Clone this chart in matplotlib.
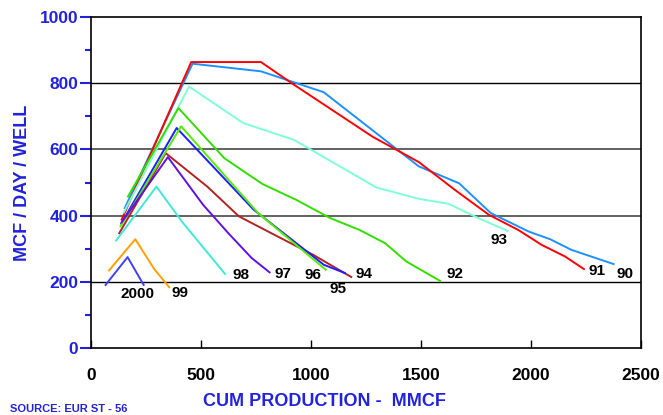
import matplotlib
matplotlib.use("Agg")
import matplotlib.pyplot as plt
from matplotlib.ticker import MultipleLocator

plt.rcParams['font.family'] = ['Liberation Sans', 'DejaVu Sans']

# Series data (cum production MMCF, MCF/day/well)
x90 = [154, 462, 773, 1058, 1490, 1673, 1817, 1990, 2087, 2183, 2375]
y90 = [423, 859, 836, 773, 549, 498, 408, 352, 329, 297, 254]
x91 = [140, 456, 773, 913, 1279, 1490, 1654, 1808, 1942, 2048, 2154, 2240]
y91 = [388, 864, 864, 800, 639, 562, 478, 403, 357, 312, 277, 239]
x93 = [150, 446, 692, 923, 1298, 1490, 1625, 1760, 1894]
y93 = [410, 790, 680, 629, 485, 451, 436, 393, 354]
x92 = [169, 398, 606, 779, 933, 1087, 1221, 1337, 1433, 1587]
y92 = [458, 725, 574, 496, 448, 393, 357, 317, 262, 203]
x94 = [129, 340, 529, 673, 835, 1010, 1183]
y94 = [347, 589, 488, 398, 342, 282, 215]
x95 = [138, 390, 740, 1058, 1154]
y95 = [376, 665, 418, 252, 227]
x96 = [135, 410, 760, 1067]
y96 = [368, 670, 408, 237]
x97 = [140, 350, 510, 625, 731, 812]
y97 = [380, 577, 433, 347, 272, 229]
x98 = [115, 298, 413, 538, 610]
y98 = [325, 488, 383, 282, 224]
x99 = [83, 202, 288, 356]
y99 = [235, 329, 239, 184]
x2000 = [67, 167, 240]
y2000 = [191, 275, 191]

series = [
    ("90", x90, y90, "#1E90FF"),
    ("91", x91, y91, "#FF0000"),
    ("93", x93, y93, "#7FFFD4"),
    ("92", x92, y92, "#33DD00"),
    ("94", x94, y94, "#B22222"),
    ("95", x95, y95, "#1E1EFF"),
    ("96", x96, y96, "#55EE00"),
    ("97", x97, y97, "#6010E0"),
    ("98", x98, y98, "#40E8D8"),
    ("99", x99, y99, "#FFA000"),
    ("2000", x2000, y2000, "#4040FF"),
]

label_names = ["90", "91", "93", "92", "94", "95", "96", "97", "98", "99", "2000"]
label_x = [2429, 2298, 1854, 1654, 1240, 1121, 1010, 875, 683, 404, 212]
label_y = [225, 232, 328, 225, 225, 178, 222, 225, 222, 168, 163]

fig = plt.figure(figsize=(6.63, 4.15), dpi=100)
ax = fig.add_axes([0.137, 0.161, 0.830, 0.798])

for yv, c, lw in [(200, "black", 1.0), (400, "#555555", 1.3), (600, "#555555", 1.3), (800, "black", 1.0)]:
    ax.axhline(yv, color=c, lw=lw, zorder=1)

for name, xs, ys, c in series:
    ax.plot(xs, ys, color=c, lw=1.4, zorder=2)

for n, lx, ly in zip(label_names, label_x, label_y):
    ax.text(lx, ly, n, fontsize=11, fontweight='bold', color='black',
            ha='center', va='center', zorder=3)

ax.set_xlim(0, 2500)
ax.set_ylim(0, 1000)
ax.xaxis.set_major_locator(MultipleLocator(500))
ax.yaxis.set_major_locator(MultipleLocator(200))
ax.yaxis.set_minor_locator(MultipleLocator(100))

for s in ax.spines.values():
    s.set_color('black')
    s.set_linewidth(1.2)

ax.tick_params(axis='x', direction='in', length=6, width=1, colors='black',
               labelsize=12.5, pad=14)
ax.tick_params(axis='y', which='major', direction='out', length=8, width=1.5,
               color='#2222DD', labelcolor='#2222DD', labelsize=12.5, pad=1)
ax.tick_params(axis='y', which='minor', direction='out', length=4, width=1.5,
               color='#2222DD')
for lab in ax.get_xticklabels() + ax.get_yticklabels():
    lab.set_fontweight('bold')

ax.set_ylabel("MCF / DAY / WELL", fontsize=13, fontweight='bold', color='#2222DD', labelpad=6)
fig.text(0.49, 0.033, "CUM PRODUCTION -  MMCF", fontsize=13, fontweight='bold',
         color='#2222DD', ha='center', va='center')
fig.text(0.015, 0.003, "SOURCE: EUR ST - 56", fontsize=8, fontweight='bold',
         color='#2222DD', ha='left', va='bottom')

fig.savefig("out.png", dpi=100)
